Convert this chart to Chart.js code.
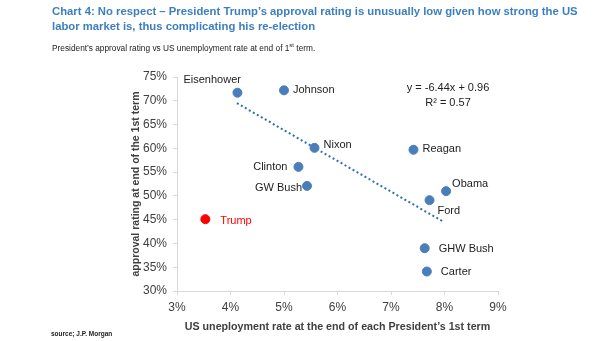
<!DOCTYPE html>
<html>
<head>
<meta charset="utf-8">
<script src="https://cdn.jsdelivr.net/npm/chart.js@4.4.1/dist/chart.umd.min.js"></script>
<style>
  html, body { margin: 0; padding: 0; background: #ffffff; }
  #wrap { position: relative; width: 605px; height: 341px; }
</style>
</head>
<body>
<div id="wrap"><canvas id="c" width="605" height="341"></canvas></div>
<script>
// ---- data ----
const presidents   = ['Eisenhower', 'Johnson', 'Nixon', 'Clinton', 'GW Bush', 'Reagan', 'Obama', 'Ford', 'GHW Bush', 'Carter'];
const unemployment = [4.13, 5.00, 5.57, 5.27, 5.43, 7.42, 8.03, 7.72, 7.63, 7.67];
const approval     = [71.7, 72.2, 60.1, 56.1, 52.1, 59.7, 51.0, 49.1, 39.0, 34.1];
const trumpName    = ['Trump'];
const trumpUnemployment = [3.53];
const trumpApproval     = [45.1];
const trendX = [4.12, 7.99];
const trendY = [69.5, 44.5];
const xTicks = [3, 4, 5, 6, 7, 8, 9];
const yTicks = [30, 35, 40, 45, 50, 55, 60, 65, 70, 75];
const equationLines = ['y = -6.44x + 0.96', 'R\u00B2 = 0.57'];

// ---- label placement (style, not data) ----
const labelPlacement = {
  'Eisenhower': { dx: -54, dy: -13, align: 'left' },
  'Johnson':    { dx: 9,   dy: 0,   align: 'left' },
  'Nixon':      { dx: 9,   dy: -3,  align: 'left' },
  'Clinton':    { dx: -11, dy: 0,   align: 'right' },
  'GW Bush':    { dx: -5,  dy: 2,   align: 'right' },
  'Reagan':     { dx: 9,   dy: -1,  align: 'left' },
  'Obama':      { dx: 6,   dy: -7,  align: 'left' },
  'Ford':       { dx: 8,   dy: 11,  align: 'left' },
  'GHW Bush':   { dx: 14,  dy: 1,   align: 'left' },
  'Carter':     { dx: 14,  dy: 0,   align: 'left' },
  'Trump':      { dx: 15,  dy: 2,   align: 'left' }
};

const FONT = "'Liberation Sans', Arial, sans-serif";
const BLUE = '#4A7EBB';
const RED  = '#FF0000';

const mainPoints  = presidents.map((n, i) => ({ x: unemployment[i], y: approval[i], name: n }));
const trumpPoints = trumpName.map((n, i) => ({ x: trumpUnemployment[i], y: trumpApproval[i], name: n }));
const trendPoints = trendX.map((x, i) => ({ x: x, y: trendY[i] }));

const decorPlugin = {
  id: 'decor',
  afterDatasetsDraw(chart) {
    const ctx = chart.ctx;
    ctx.save();
    // point labels
    ctx.font = '11px ' + FONT;
    ctx.textBaseline = 'middle';
    [0, 1].forEach(di => {
      const meta = chart.getDatasetMeta(di);
      const ds = chart.data.datasets[di];
      meta.data.forEach((el, i) => {
        const name = ds.data[i].name;
        const p = labelPlacement[name];
        ctx.fillStyle = name === 'Trump' ? RED : '#222222';
        ctx.textAlign = p.align;
        ctx.fillText(name, el.x + p.dx, el.y + p.dy);
      });
    });
    // regression equation
    ctx.fillStyle = '#222222';
    ctx.textAlign = 'center';
    ctx.fillText(equationLines[0], 448, 88);
    ctx.fillText(equationLines[1], 448, 103);
    ctx.restore();
  },
  afterDraw(chart) {
    const ctx = chart.ctx;
    ctx.save();
    ctx.textBaseline = 'middle';
    ctx.textAlign = 'left';
    // title
    ctx.fillStyle = '#3C7FC1';
    ctx.font = 'bold 11.3px ' + FONT;
    ctx.fillText('Chart 4: No respect \u2013 President Trump\u2019s approval rating is unusually low given how strong the US', 52, 12);
    ctx.fillText('labor market is, thus complicating his re-election', 52, 27);
    // subtitle with superscript
    ctx.fillStyle = '#222222';
    ctx.font = '8.3px ' + FONT;
    const s1 = 'President\u2019s approval rating vs US unemployment rate at end of 1';
    ctx.fillText(s1, 52, 49);
    let w = ctx.measureText(s1).width;
    ctx.font = '6px ' + FONT;
    ctx.fillText('st', 52 + w, 45);
    const w2 = ctx.measureText('st').width;
    ctx.font = '8.3px ' + FONT;
    ctx.fillText(' term.', 52 + w + w2, 49);
    // source
    ctx.font = 'bold 6.5px ' + FONT;
    ctx.fillStyle = '#222222';
    ctx.fillText('source; J.P. Morgan', 51, 334);
    ctx.restore();
  }
};

new Chart(document.getElementById('c'), {
  type: 'scatter',
  data: {
    datasets: [
      {
        label: 'Presidents',
        data: mainPoints,
        backgroundColor: BLUE,
        borderColor: BLUE,
        pointRadius: 4.5,
        pointHoverRadius: 4.5
      },
      {
        label: 'Trump',
        data: trumpPoints,
        backgroundColor: RED,
        borderColor: RED,
        pointRadius: 4.5,
        pointHoverRadius: 4.5
      },
      {
        label: 'Trend',
        type: 'line',
        data: trendPoints,
        showLine: true,
        borderColor: '#2E6DB8',
        borderWidth: 2,
        borderDash: [2, 2.6],
        pointRadius: 0,
        fill: false
      }
    ]
  },
  options: {
    responsive: false,
    animation: false,
    events: [],
    layout: { padding: { left: 0, right: 107, top: 77, bottom: 0 } },
    plugins: { legend: { display: false }, tooltip: { enabled: false } },
    scales: {
      x: {
        type: 'linear',
        min: 3, max: 9,
        afterFit(s) { s.height = 50; },
        afterBuildTicks(s) { s.ticks = xTicks.map(v => ({ value: v })); },
        grid: { drawOnChartArea: false, drawTicks: true, tickLength: 4, color: '#D9D9D9' },
        border: { color: '#D9D9D9', width: 1 },
        ticks: {
          padding: 5,
          color: '#404040',
          font: { family: FONT, size: 12 },
          maxRotation: 0,
          callback: v => v + '%'
        },
        title: {
          display: true,
          text: 'US uneployment rate at the end of each President\u2019s 1st term',
          color: '#404040',
          font: { family: FONT, size: 10.7, weight: 'bold' },
          padding: { top: 0, bottom: 8 }
        }
      },
      y: {
        type: 'linear',
        min: 30, max: 75,
        afterFit(s) { s.width = 177; },
        afterBuildTicks(s) { s.ticks = yTicks.map(v => ({ value: v })); },
        grid: { drawOnChartArea: false, drawTicks: true, tickLength: 4, color: '#D9D9D9' },
        border: { color: '#D9D9D9', width: 1 },
        ticks: {
          padding: 6,
          color: '#404040',
          font: { family: FONT, size: 12 },
          callback: v => v + '%'
        },
        title: {
          display: true,
          text: 'approval rating at end of the 1st term',
          color: '#404040',
          font: { family: FONT, size: 10.5, weight: 'bold' },
          padding: { top: 130, bottom: 0 }
        }
      }
    }
  },
  plugins: [decorPlugin]
});
</script>
</body>
</html>
